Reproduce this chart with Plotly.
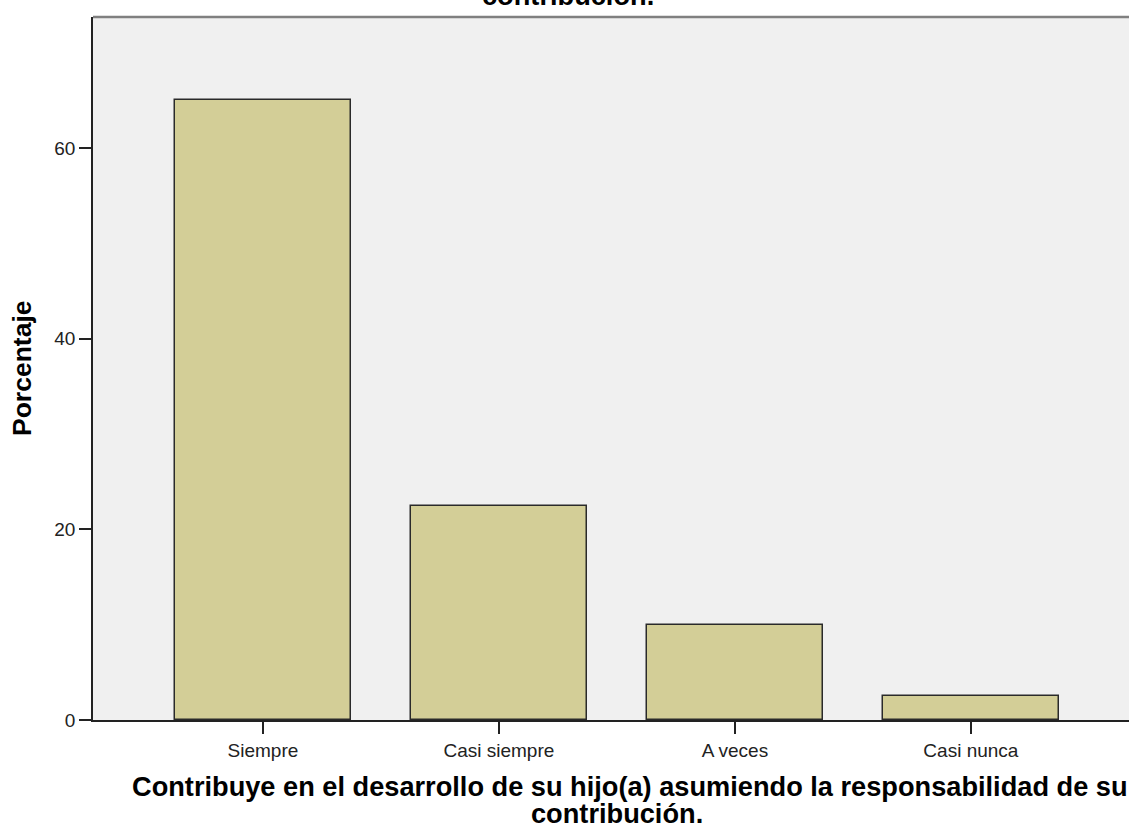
import plotly.graph_objects as go

categories = ["Siempre", "Casi siempre", "A veces", "Casi nunca"]
percentages = [65.0, 22.5, 10.0, 2.5]
y_ticks = [0, 20, 40, 60]
x_title_1 = "Contribuye en el desarrollo de su hijo(a) asumiendo la responsabilidad de su"
x_title_2 = "contribución."
y_title = "Porcentaje"
top_title = "contribución."

FONT = "Liberation Sans, Arial, sans-serif"

fig = go.Figure(go.Bar(
    x=list(range(len(categories))),
    y=percentages,
    width=0.746,
    marker=dict(color="#D3CE97", line=dict(color="#2a2a2a", width=1.5)),
    hoverinfo="skip",
))

fig.update_layout(
    width=1129, height=828,
    margin=dict(l=93, r=0, t=17, b=108),
    paper_bgcolor="white",
    plot_bgcolor="#F0F0F0",
    showlegend=False,
    font=dict(family=FONT, color="black"),
    bargap=0,
)
fig.update_xaxes(
    range=[-0.72, 3.67],
    tickvals=list(range(len(categories))),
    ticktext=categories,
    ticks="outside", ticklen=12, tickwidth=1.5, tickcolor="#222",
    tickfont=dict(size=19, color="#222", family=FONT),
    showline=True, linecolor="#222", linewidth=1.5,
    showgrid=False, zeroline=False,
)
fig.update_yaxes(
    range=[0, 73.75],
    tickvals=y_ticks,
    ticks="outside", ticklen=12, tickwidth=1.5, tickcolor="#222",
    tickfont=dict(size=19, color="#222", family=FONT),
    showline=True, linecolor="#222", linewidth=1.5,
    showgrid=False, zeroline=False,
)
fig.add_shape(type="line", xref="paper", yref="paper", x0=0, x1=1, y0=1, y1=1,
              line=dict(color="#808080", width=2.5))
bold = dict(size=27.2, color="black", family=FONT)
fig.add_annotation(text="<b>" + x_title_1 + "</b>", xref="paper", yref="paper",
                   x=(630 - 93) / 1036, y=-0.0939, xanchor="center", yanchor="middle",
                   showarrow=False, font=bold)
fig.add_annotation(text="<b>" + x_title_2 + "</b>", xref="paper", yref="paper",
                   x=(617 - 93) / 1036, y=-0.1325, xanchor="center", yanchor="middle",
                   showarrow=False, font=bold)
fig.add_annotation(text="<b>" + y_title + "</b>", xref="paper", yref="paper",
                   x=(22 - 93) / 1036, y=0.5007, xanchor="center", yanchor="middle", textangle=-90,
                   showarrow=False, font=dict(size=26.5, color="black", family=FONT))
fig.add_annotation(text="<b>" + top_title + "</b>", xref="paper", yref="paper",
                   x=(568 - 93) / 1036, y=1.031, xanchor="center", yanchor="middle",
                   showarrow=False, font=bold)

fig.write_html("out.html", config={"displayModeBar": False},
               post_script="document.body.style.margin='0';")
